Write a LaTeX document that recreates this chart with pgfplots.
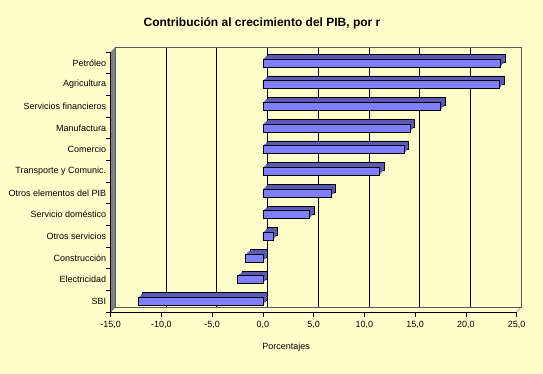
\documentclass[border=0pt]{standalone}
\usepackage{pgfplots}
\pgfplotsset{compat=1.18}
\usepackage{fontspec}
\setmainfont{Liberation Sans}
\definecolor{bgy}{RGB}{255,255,204}
\definecolor{frontb}{RGB}{128,128,255}
\definecolor{topb}{RGB}{90,90,178}
\definecolor{wallg}{RGB}{128,128,128}
\begin{document}
\begin{tikzpicture}[x=1pt,y=1pt]
\fill[bgy] (0,0) rectangle (543,374);
\node[font=\fontsize{12}{14}\selectfont\bfseries] at (262,351) {Contribución al crecimiento del PIB, por r};
% back wall
\begin{axis}[at={(115.2pt,67pt)}, anchor=south west, width=406pt, height=260pt, scale only axis,
  xmin=-15, xmax=25, ymin=0, ymax=1,
  xtick={-15,-10,...,25}, xticklabels={}, ytick=\empty,
  xmajorgrids, grid style={black, line width=0.7pt},
  major tick length=0pt,
  axis line style={draw=black!65, line width=0.8pt}]
\addplot[draw=none] coordinates {(-15,0) (25,1)};
\end{axis}
% side wall
\fill[wallg] (110.7,322) -- (115.2,327) -- (115.2,67) -- (110.7,62) -- cycle;
\draw[black!70] (110.7,62) -- (115.2,67);
\draw[black!70] (516.7,62) -- (521.2,67);
% front axis with bars
\begin{axis}[at={(110.7pt,62pt)}, anchor=south west, width=406pt, height=260pt, scale only axis,
  xmin=-15, xmax=25, ymin=-0.5, ymax=11.5, y dir=reverse, clip=false,
  axis x line*=bottom, axis y line*=left,
  axis line style={black, line width=0.8pt},
  xtick={-15,-10,...,25},
  xticklabels={{-15,0},{-10,0},{-5,0},{0,0},{5,0},{10,0},{15,0},{20,0},{25,0}},
  ytick={-0.5,0.5,...,11.5}, yticklabels={},
  extra y ticks={0,1,...,11},
  extra y tick labels={Petróleo,Agricultura,Servicios financieros,Manufactura,Comercio,Transporte y Comunic.,Otros elementos del PIB,Servicio doméstico,Otros servicios,Construcción,Electricidad,SBI},
  extra y tick style={major tick length=0pt, yticklabel style={xshift=-1pt}},
  tick align=outside, major tick length=5pt,
  tick style={black, line width=0.7pt},
  ticklabel style={font=\fontsize{9}{11}\selectfont},
  xticklabel style={yshift=-1pt},
  xlabel={Porcentajes},
  xlabel style={font=\fontsize{9}{11}\selectfont, at={(axis description cs:0.432,0)}, anchor=north, yshift=-27pt},
  xbar, bar width=8pt]
\addplot[bar shift=0pt, fill=topb, draw=black, line width=0.6pt, xshift=4.5pt, yshift=4.5pt] coordinates {
(23.4,0) (23.3,1) (17.5,2) (14.5,3) (13.9,4) (11.5,5) (6.7,6) (4.6,7) (1.0,8) (-1.7,9) (-2.5,10) (-12.3,11)};
\addplot[bar shift=0pt, fill=topb, draw=none, xshift=3pt, yshift=3pt] coordinates {
(23.4,0) (23.3,1) (17.5,2) (14.5,3) (13.9,4) (11.5,5) (6.7,6) (4.6,7) (1.0,8) (-1.7,9) (-2.5,10) (-12.3,11)};
\addplot[bar shift=0pt, fill=topb, draw=none, xshift=1.5pt, yshift=1.5pt] coordinates {
(23.4,0) (23.3,1) (17.5,2) (14.5,3) (13.9,4) (11.5,5) (6.7,6) (4.6,7) (1.0,8) (-1.7,9) (-2.5,10) (-12.3,11)};
\addplot[bar shift=0pt, fill=frontb, draw=black, line width=0.6pt] coordinates {
(23.4,0) (23.3,1) (17.5,2) (14.5,3) (13.9,4) (11.5,5) (6.7,6) (4.6,7) (1.0,8) (-1.7,9) (-2.5,10) (-12.3,11)};
\end{axis}
\end{tikzpicture}
\end{document}
